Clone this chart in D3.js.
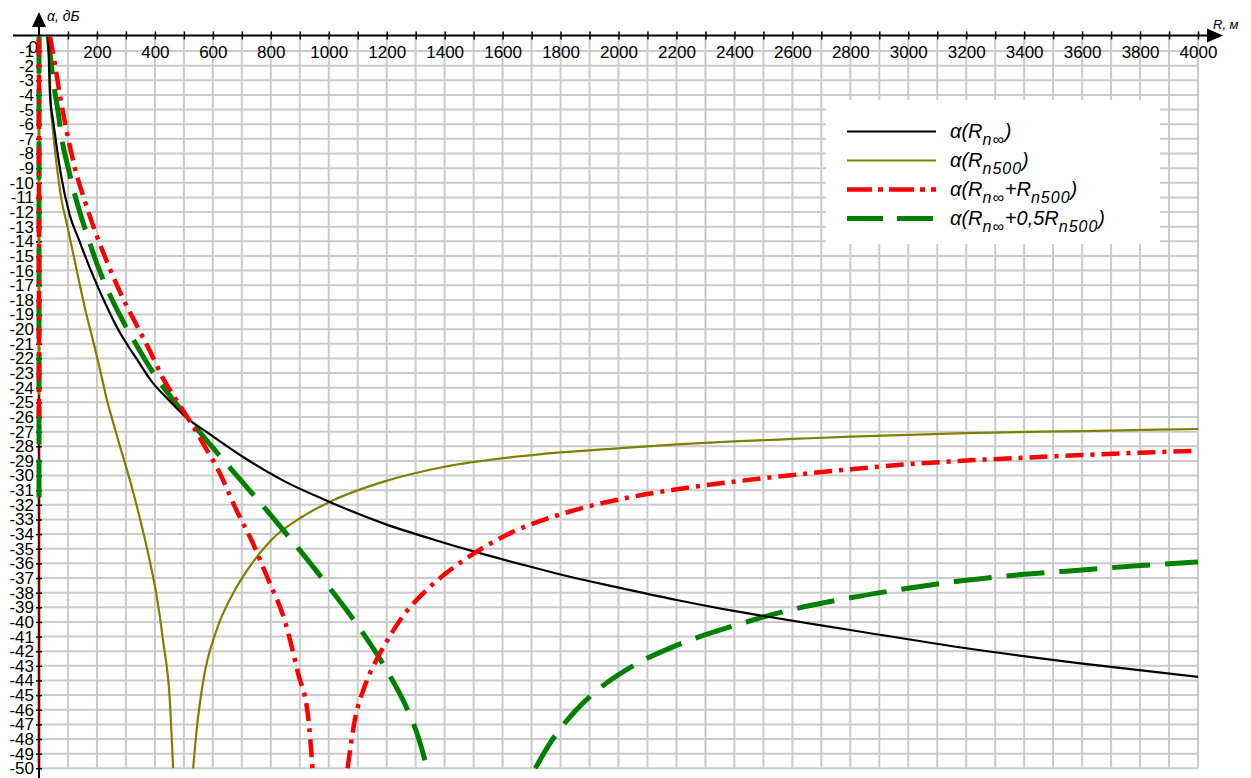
<!DOCTYPE html>
<html><head><meta charset="utf-8">
<script src="https://cdn.jsdelivr.net/npm/d3@7"></script>
<style>
body{margin:0;background:#fff}
svg{display:block}
text{font-family:"Liberation Sans",Arial,sans-serif;fill:#000}
</style>
</head><body>
<svg id="c" width="1251" height="778"></svg>
<script>
// ---------- data ----------
const xLabels = [200,400,600,800,1000,1200,1400,1600,1800,2000,2200,2400,2600,2800,3000,3200,3400,3600,3800,4000];
const yLabels = [0,-1,-2,-3,-4,-5,-6,-7,-8,-9,-10,-11,-12,-13,-14,-15,-16,-17,-18,-19,-20,-21,-22,-23,-24,-25,-26,-27,-28,-29,-30,-31,-32,-33,-34,-35,-36,-37,-38,-39,-40,-41,-42,-43,-44,-45,-46,-47,-48,-49,-50];

// α(Rn∞) — black
const blackR = [32,38,49,60,77,106,140,175,221,278,336,390,446,512,584,710,848,1003,1193,1366,1503,1710,1800,1997,2201,2398,2532,2800,3201,3602,4000];
const blackV = [0,-4.0,-5.8,-7.4,-9.6,-12.2,-14.0,-15.8,-17.9,-20.2,-22.0,-23.6,-24.8,-26.1,-27.1,-28.8,-30.4,-31.8,-33.3,-34.4,-35.2,-36.3,-36.76,-37.64,-38.5,-39.25,-39.7,-40.55,-41.8,-42.85,-43.75];

// α(Rn500) — olive (null = below the plot, curve broken)
const oliveR = [34,40,47,61,78,96,124,159,193,211,234,262,330,383,406,429,452,463,498,532,544,567,613,671,728,802,906,1003,1193,1400,1653,1800,1997,2201,2398,2603,2800,3201,3602,4000];
const oliveV = [0,-4.5,-6.2,-8.8,-11.2,-12.8,-15.4,-18.6,-21.3,-22.8,-24.8,-26.8,-31.5,-35.9,-38.2,-41.4,-45.5,-50,null,-50,-47.4,-44.0,-40.55,-38.0,-36.2,-34.4,-32.85,-31.8,-30.4,-29.4,-28.7,-28.42,-28.14,-27.87,-27.67,-27.5,-27.34,-27.1,-26.96,-26.82];

// α(Rn∞+Rn500) — red
const redR = [38,55,72,96,124,159,199,239,285,331,383,429,469,515,572,618,687,733,791,848,894,929,944,1000,1065,1090,1124,1170,1216,1260,1308,1400,1503,1630,1768,1899,1997,2201,2398,2603,2800,3000,3201,3602,4000];
const redV = [0,-1.9,-4.0,-6.5,-9.0,-11.3,-13.6,-15.6,-17.7,-19.5,-21.5,-23.4,-24.7,-26.1,-28.0,-29.6,-32.6,-34.4,-37.1,-39.9,-43.5,-46.5,-50,null,-50,-46.7,-44.4,-42.4,-40.8,-39.5,-38.4,-36.75,-35.3,-33.9,-32.85,-32.1,-31.65,-30.94,-30.42,-29.96,-29.57,-29.23,-28.98,-28.6,-28.3];

// α(Rn∞+0,5Rn500) — green
const greenR = [32,49,67,78,101,118,147,170,205,234,291,331,395,446,515,600,700,800,900,1000,1100,1200,1260,1300,1340,1520,1713,1760,1850,1950,2050,2200,2400,2600,2800,3000,3200,3400,3600,3800,4000];
const greenV = [0,-3.0,-5.3,-6.9,-9.0,-10.4,-12.4,-13.8,-15.8,-17.2,-19.5,-20.9,-23.0,-24.4,-26.1,-28.1,-30.4,-32.7,-35.1,-37.6,-40.25,-43.3,-45.5,-47.35,-50,null,-50,-48.4,-46.1,-44.3,-43.0,-41.6,-40.25,-39.15,-38.35,-37.7,-37.15,-36.75,-36.45,-36.15,-35.9];

// vertical part of each curve at R = 0 (lowest visible value), order: black, olive, red, green
const stubBottom = [null,-24.5,-26.0,-31.5];

const legendLabels = [
  [["α(R",0],["n∞",1],[")",0]],
  [["α(R",0],["n500",1],[")",0]],
  [["α(R",0],["n∞",1],["+R",0],["n500",1],[")",0]],
  [["α(R",0],["n∞",1],["+0,5R",0],["n500",1],[")",0]]
];

// ---------- styles ----------
const styles = [
  {color:"#000000", width:2.2, dash:null,        ldash:null},
  {color:"#808000", width:2.2, dash:null,        ldash:null},
  {color:"#ff0000", width:4.5, dash:"18,7,4,7",  ldash:"25,6,5,6"},
  {color:"#008000", width:5,   dash:"38,15",     ldash:"36,14"}
];
const series = [
  {R:blackR, V:blackV},
  {R:oliveR, V:oliveV},
  {R:redR,   V:redV},
  {R:greenR, V:greenV}
].map((s,i)=>({pts:s.R.map((r,j)=>[r,s.V[j]]), stub:stubBottom[i], st:styles[i], label:legendLabels[i]}));

// ---------- drawing ----------
const W=1251,H=778;
const x=d3.scaleLinear().domain([0,4000]).range([39,1198]);
const y=d3.scaleLinear().domain([0,-50]).range([36.4,768.3]);
const svg=d3.select("#c");
svg.append("rect").attr("width",W).attr("height",H).attr("fill","#fff");

const gridColor="#cbcbcb";
const gxv=d3.range(100,4001,100), gyv=d3.range(-1,-51,-1);
svg.append("g").selectAll("line").data(gxv).join("line")
  .attr("x1",d=>x(d)).attr("x2",d=>x(d)).attr("y1",y(0)).attr("y2",y(-50))
  .attr("stroke",gridColor).attr("stroke-width",2);
svg.append("g").selectAll("line").data(gyv).join("line")
  .attr("x1",x(0)).attr("x2",x(4000)).attr("y1",d=>y(d)).attr("y2",d=>y(d))
  .attr("stroke",gridColor).attr("stroke-width",2);

// legend background
const lg = svg.append("g");
lg.append("rect").attr("x",826).attr("y",100).attr("width",334).attr("height",144).attr("fill","#fff");

// y axis line (black outside plot, dark red inside)
const ax0 = x(0), axY = y(0)-1;
svg.append("line").attr("x1",ax0).attr("x2",ax0).attr("y1",26).attr("y2",H).attr("stroke","#000").attr("stroke-width",2);
svg.append("line").attr("x1",ax0).attr("x2",ax0).attr("y1",y(0)).attr("y2",y(-50)).attr("stroke","#800000").attr("stroke-width",2.6);
// x axis line
svg.append("line").attr("x1",13).attr("x2",1212).attr("y1",axY).attr("y2",axY).attr("stroke","#000").attr("stroke-width",2);
// arrows
svg.append("path").attr("d",`M${ax0},12 L${ax0-7},27 L${ax0+7},27 Z`).attr("fill","#000");
svg.append("path").attr("d",`M1223,${axY} L1207,${axY-7} L1207,${axY+7} Z`).attr("fill","#000");

// x axis ticks & labels via d3 axis
const xAxis = d3.axisBottom(x).tickValues(d3.range(100,4001,100)).tickSize(0)
  .tickFormat(d=> xLabels.includes(d) ? String(d) : "");
const gX = svg.append("g").attr("transform",`translate(0,${axY})`).call(xAxis);
gX.select(".domain").remove();
gX.selectAll(".tick line").attr("y1",-4).attr("y2",4).attr("stroke","#000").attr("stroke-width",1.5);
gX.selectAll(".tick text").attr("y",11).attr("dy","0.71em").attr("font-size",17).attr("font-family","Liberation Sans, Arial, sans-serif").attr("fill","#000");

// y axis ticks & labels
const yAxis = d3.axisLeft(y).tickValues(yLabels).tickSize(0).tickFormat(d=>String(d));
const gY = svg.append("g").attr("transform",`translate(${ax0},0)`).call(yAxis);
gY.select(".domain").remove();
gY.selectAll(".tick line").attr("x1",-3).attr("x2",3).attr("stroke","#000").attr("stroke-width",1.5)
  .filter(d=>d===0).remove();
gY.selectAll(".tick text").attr("x",-5).attr("font-size",17).attr("font-family","Liberation Sans, Arial, sans-serif").attr("fill","#000")
  .filter(d=>d===0).attr("x",-1).attr("dy","0.95em");

// axis titles
svg.append("text").attr("x",47).attr("y",21).attr("font-size",14).attr("font-style","italic").text("α, дБ");
svg.append("text").attr("x",1213).attr("y",29).attr("font-size",13).attr("font-style","italic").text("R, м");

// curves
svg.append("defs").append("clipPath").attr("id","clip").append("rect")
  .attr("x",x(0)-4).attr("y",y(0)).attr("width",x(4000)-x(0)+6).attr("height",y(-50)-y(0)+1);
const line = d3.line().defined(d=>d[1]!==null).x(d=>x(d[0])).y(d=>y(d[1])).curve(d3.curveMonotoneX);
const plot = svg.append("g").attr("clip-path","url(#clip)");
const drawOrder=[1,3,0,2];
drawOrder.forEach(i=>{
  const s=series[i];
  if(s.stub!==null){
    plot.append("line").attr("x1",x(0)).attr("x2",x(0)).attr("y1",y(s.stub)).attr("y2",y(0))
      .attr("stroke",s.st.color).attr("stroke-width",s.st.width).attr("stroke-dasharray",s.st.dash);
  }
  plot.append("path").datum(s.pts).attr("d",line).attr("fill","none")
    .attr("stroke",s.st.color).attr("stroke-width",s.st.width)
    .attr("stroke-dasharray",s.st.dash).attr("stroke-linejoin","round");
});

// legend
series.forEach((s,i)=>{
  const ly = 131.5 + i*29;
  lg.append("line").attr("x1",847).attr("x2",936).attr("y1",ly).attr("y2",ly)
    .attr("stroke",s.st.color).attr("stroke-width",s.st.width).attr("stroke-dasharray",s.st.ldash);
  const t = lg.append("text").attr("x",950).attr("y",ly+6).attr("font-size",20).attr("font-style","italic");
  let off=0;
  s.label.forEach(([txt,sub])=>{
    const target = sub?7:0;
    t.append("tspan").attr("dy",target-off).attr("font-size",sub?16:20)
      .attr("letter-spacing",sub?1:0).text(txt);
    off=target;
  });
});
</script>
</body></html>
